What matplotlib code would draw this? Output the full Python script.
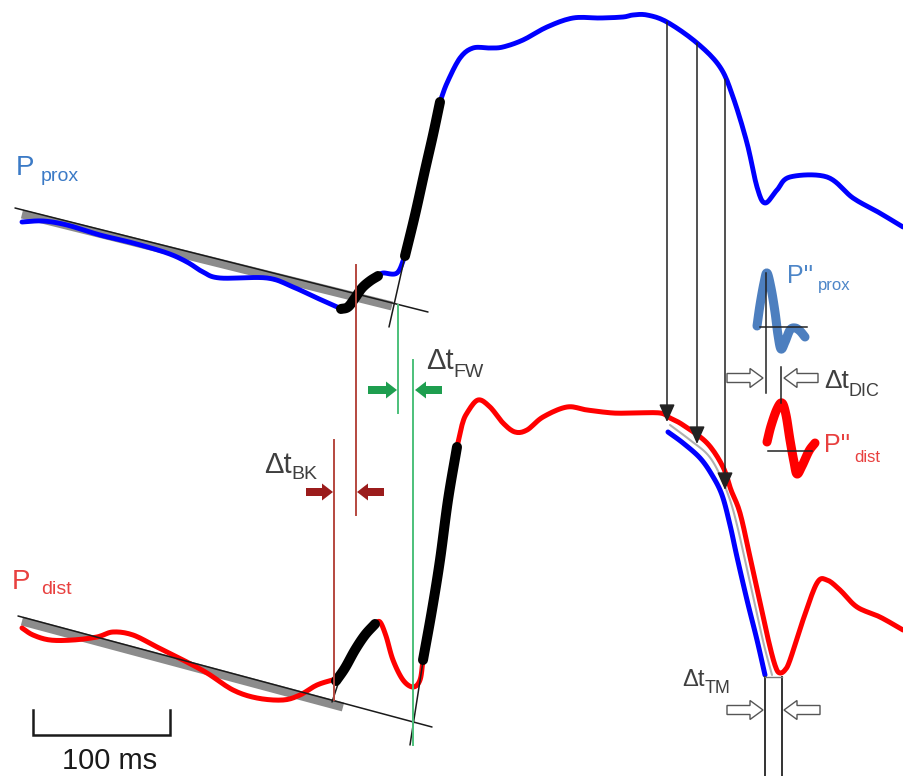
import numpy as np
import matplotlib
matplotlib.use("Agg")
import matplotlib.pyplot as plt
from matplotlib.patches import FancyArrow

plt.rcParams['font.family'] = ['Liberation Sans', 'DejaVu Sans']

# ---- proximal pressure trace (canvas pixel units, y grows downward) ----
prox_base = [(22, 222), (43, 221), (67, 225), (100, 235), (133, 243), (167, 253),
             (187, 262), (203, 272), (220, 278), (267, 278), (293, 287), (317, 298),
             (333, 305), (341, 309)]
prox_bk = [(341, 309), (348, 307), (355, 298), (362, 288), (370, 281), (378, 276)]
prox_mid = [(378, 276), (383, 273), (397, 273), (405, 256)]
prox_fw = [(405, 256), (415, 215), (425, 170), (433, 135), (440, 102)]
prox_rest = [(440, 102), (447, 83), (460, 58), (473, 48), (490, 48), (503, 47),
             (523, 40), (547, 27), (573, 18), (600, 18), (623, 17), (633, 15),
             (647, 15), (667, 22), (697, 43), (720, 67), (733, 97), (747, 143),
             (757, 187), (765, 203), (777, 190), (790, 177), (827, 177), (853, 198),
             (878, 212), (903, 227)]

# ---- distal pressure trace ----
dist_base = [(22, 628), (33, 635), (50, 640), (73, 640), (97, 637), (113, 632),
             (133, 635), (157, 647), (183, 660), (207, 673), (233, 690), (257, 698),
             (283, 700), (300, 695), (317, 685), (336, 679)]
dist_bk = [(336, 681), (345, 668), (355, 650), (365, 635), (375, 624)]
dist_mid = [(375, 624), (380, 622), (386, 636), (393, 660), (403, 680), (413, 687),
            (420, 680), (423, 660)]
dist_fw = [(423, 660), (432, 610), (440, 560), (448, 500), (457, 447)]
dist_rest = [(457, 447), (462, 425), (467, 413), (478, 400), (490, 407), (503, 423),
             (515, 432), (527, 430), (543, 417), (567, 407), (587, 410), (613, 413),
             (633, 413), (660, 413), (670, 418), (683, 425), (707, 443), (723, 467),
             (731, 490), (740, 513), (750, 557), (760, 603), (770, 647), (776, 668),
             (780, 673), (785, 670), (790, 660), (803, 620), (817, 583), (827, 580),
             (840, 590), (857, 607), (880, 617), (903, 630)]

# proximal dicrotic descent shifted onto the distal trace
prox_shift = [(668, 432), (683, 443), (700, 458), (712, 475), (722, 495), (730, 525),
              (737, 557), (747, 600), (757, 640), (765, 675)]
shift_gap = [(670, 425), (690, 440), (708, 455), (720, 475), (730, 500), (737, 525),
             (745, 560), (755, 605), (764, 645), (772, 675)]

# baseline fits (grey) and their straight extrapolations (thin black)
prox_fit_band = [(22, 214), (392, 306)]
prox_fit_line = [(15, 208), (428, 312)]
dist_fit_band = [(22, 621), (343, 707)]
dist_fit_line = [(18, 616), (432, 727)]
prox_fw_tangent = [(389, 327), (405, 256)]
dist_bk_tangent = [(332, 702), (340, 678)]
dist_fw_tangent = [(410, 745), (424, 655)]

# second derivatives around the dicrotic notch
d2_prox = [(757, 326), (760, 305), (764, 283), (767, 273), (771, 288), (775, 312),
           (778, 335), (781, 349), (785, 342), (790, 330), (795, 328), (800, 331),
           (805, 337)]
d2_dist = [(767, 442), (771, 426), (777, 409), (782, 403), (786, 415), (790, 440),
           (794, 462), (797, 474), (802, 466), (809, 451), (815, 443)]

# timing markers
bk_lines_x = [334, 356]
bk_lines_y = [(440, 700), (265, 515)]
fw_lines_x = [398, 413]
fw_lines_y = [(305, 413), (360, 745)]
drop_x = [667, 697, 725]
drop_y = [(22, 422), (43, 444), (79, 490)]
tm_lines_x = [765, 782]

BLUE = '#0000ff'
RED = '#ff0000'
BLACK = '#000000'
GREY = '#8c8c8c'
TXT = '#3f3f3f'

fig = plt.figure(figsize=(9.04, 7.76), dpi=100)
ax = fig.add_axes([0, 0, 1, 1])
ax.set_xlim(0, 904)
ax.set_ylim(776, 0)
ax.axis('off')


def smooth(pts, n=10):
    """Catmull-Rom path through the given vertices."""
    p = np.asarray(pts, dtype=float)
    if len(p) < 3:
        return p
    ext = np.vstack([2 * p[0] - p[1], p, 2 * p[-1] - p[-2]])
    out = []
    t = np.linspace(0, 1, n, endpoint=False)[:, None]
    for i in range(1, len(ext) - 2):
        p0, p1, p2, p3 = ext[i - 1], ext[i], ext[i + 1], ext[i + 2]
        seg = 0.5 * ((2 * p1) + (-p0 + p2) * t + (2 * p0 - 5 * p1 + 4 * p2 - p3) * t ** 2
                     + (-p0 + 3 * p1 - 3 * p2 + p3) * t ** 3)
        out.append(seg)
    out.append(p[-1][None, :])
    return np.vstack(out)


def trace(pts, color, lw, z, cap='round', curve=True):
    a = smooth(pts) if curve else np.asarray(pts, dtype=float)
    ax.plot(a[:, 0], a[:, 1], color=color, lw=lw, zorder=z,
            solid_capstyle=cap, solid_joinstyle='round')


# grey fit bands and thin fit lines
trace(prox_fit_band, GREY, 6.5, 1, cap='butt', curve=False)
trace(dist_fit_band, GREY, 6.5, 1, cap='butt', curve=False)
trace(prox_fit_line, '#1a1a1a', 1.1, 4, curve=False)
trace(dist_fit_line, '#1a1a1a', 1.1, 4, curve=False)

# pressure traces
for seg in (prox_base, prox_mid, prox_rest):
    trace(seg, BLUE, 3.5, 3)
for seg in (dist_base, dist_mid, dist_rest):
    trace(seg, RED, 3.6, 3)
for seg in (prox_bk, prox_fw, dist_bk, dist_fw):
    trace(seg, BLACK, 7.2, 5)

trace(prox_shift, BLUE, 3.6, 3)
trace(shift_gap, '#b0b0b0', 1.5, 2)

# tangents at the wave feet
trace(prox_fw_tangent, '#1a1a1a', 1.1, 4, curve=False)
trace(dist_bk_tangent, '#1a1a1a', 1.1, 4, curve=False)
trace(dist_fw_tangent, '#1a1a1a', 1.1, 4, curve=False)

# backward / forward wave onset markers
for x, (y0, y1) in zip(bk_lines_x, bk_lines_y):
    ax.plot([x, x], [y0, y1], color='#b5483f', lw=1.4, zorder=6)
for x, (y0, y1) in zip(fw_lines_x, fw_lines_y):
    ax.plot([x, x], [y0, y1], color='#4cc07a', lw=1.4, zorder=6)


def block_arrow(x0, x1, y, fc, ec=None, lw=0.0, w=8, hw=17, hl=11):
    ax.add_patch(FancyArrow(x0, y, x1 - x0, 0, width=w, head_width=hw,
                            head_length=hl, length_includes_head=True,
                            facecolor=fc, edgecolor=ec if ec else fc,
                            linewidth=lw, zorder=7))


block_arrow(368, 397, 390, '#1e9e4f')
block_arrow(442, 415, 390, '#1e9e4f')
block_arrow(306, 333, 492, '#9b1c1c')
block_arrow(384, 357, 492, '#9b1c1c')

# transfer of the dicrotic descent
for x, (y0, y1) in zip(drop_x, drop_y):
    ax.annotate('', xy=(x, y1), xytext=(x, y0),
                arrowprops=dict(arrowstyle='-|>,head_length=0.9,head_width=0.4',
                                color='#222222', lw=1.1, shrinkA=0, shrinkB=0,
                                mutation_scale=12), zorder=8)

# second derivatives
trace(d2_prox, '#4d7fbf', 6.5, 3)
trace(d2_dist, RED, 6.5, 3)
ax.plot([766, 766], [273, 393], color='#222222', lw=1.1, zorder=4)
ax.plot([760, 807], [327, 327], color='#222222', lw=1.1, zorder=4)
ax.plot([781, 781], [367, 403], color='#222222', lw=1.1, zorder=4)
ax.plot([768, 812], [451, 451], color='#222222', lw=1.1, zorder=4)
block_arrow(727, 763, 378, 'white', '#555555', 1.0, w=9, hw=19, hl=13)
block_arrow(818, 784, 378, 'white', '#555555', 1.0, w=9, hw=19, hl=13)

# trough-to-trough delay
for x in tm_lines_x:
    ax.plot([x, x], [677, 776], color='#333333', lw=1.4, zorder=4)
ax.plot(tm_lines_x, [677, 677], color='#777777', lw=1.0, zorder=4)
block_arrow(727, 763, 710, 'white', '#555555', 1.0, w=9, hw=19, hl=13)
block_arrow(820, 784, 710, 'white', '#555555', 1.0, w=9, hw=19, hl=13)

# scale bar
ax.plot([33, 33, 170, 170], [710, 735, 735, 710], color='#1a1a1a', lw=1.8,
        solid_joinstyle='miter', zorder=4)
ax.text(110, 769, '100 ms', ha='center', va='baseline', fontsize=21,
        color='#1a1a1a')

# labels
ax.text(16, 175, 'P', fontsize=20, color='#3b7ac6', va='baseline')
ax.text(41, 181, 'prox', fontsize=14, color='#3b7ac6', va='baseline')
ax.text(12, 589, 'P', fontsize=20, color='#e8403f', va='baseline')
ax.text(41, 594, 'dist', fontsize=14, color='#e8403f', va='baseline')

ax.text(426, 369, 'Δt', fontsize=21, color=TXT, va='baseline')
ax.text(453, 377, 'FW', fontsize=14, color=TXT, va='baseline')
ax.text(264, 473, 'Δt', fontsize=21, color=TXT, va='baseline')
ax.text(291, 479, 'BK', fontsize=14, color=TXT, va='baseline')
ax.text(824, 388, 'Δt', fontsize=19, color=TXT, va='baseline')
ax.text(849, 396, 'DIC', fontsize=13, color=TXT, va='baseline')
ax.text(682, 686, 'Δt', fontsize=17, color=TXT, va='baseline')
ax.text(705, 693, 'TM', fontsize=13, color=TXT, va='baseline')

ax.text(787, 283, "P''", fontsize=18, color='#4d86c8', va='baseline')
ax.text(818, 290, 'prox', fontsize=12, color='#4d86c8', va='baseline')
ax.text(824, 452, "P''", fontsize=18, color='#e8403f', va='baseline')
ax.text(854, 462, 'dist', fontsize=12, color='#e8403f', va='baseline')

fig.savefig('out.png', dpi=100)
